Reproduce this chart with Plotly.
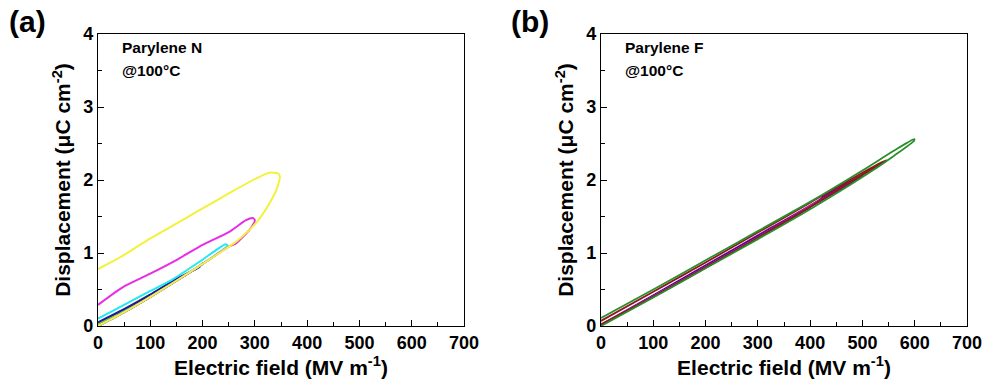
import plotly.graph_objects as go

# ---- Panel (a): Parylene N at 100 °C, D–E loops (field in MV/m, D in µC/cm²) ----
# Each loop is listed as the charging branch (0 -> Emax) followed by the discharging branch (Emax -> 0).
pn_orange_E = [0, 50, 100, 100, 50, 0]
pn_orange_D = [0.00, 0.20, 0.42, 0.43, 0.23, 0.02]

pn_green_E = [0, 50, 100, 150, 150, 100, 50, 0]
pn_green_D = [0.00, 0.19, 0.40, 0.63, 0.64, 0.43, 0.22, 0.03]

pn_blue_E = [0, 50, 100, 150, 200, 200, 194, 146, 100, 50, 0]
pn_blue_D = [0.00, 0.19, 0.40, 0.62, 0.85, 0.86, 0.81, 0.63, 0.43, 0.23, 0.05]

pn_cyan_E = [0, 50, 100, 150, 200, 240, 248, 244, 230, 194, 143, 100, 50, 0]
pn_cyan_D = [0.00, 0.19, 0.40, 0.62, 0.85, 1.05, 1.10, 1.12, 1.06, 0.88, 0.64, 0.48, 0.29, 0.10]

pn_magenta_E = [0, 50, 100, 150, 200, 251, 264, 277, 290, 300, 296, 283, 251, 200, 149, 98, 47, 0]
pn_magenta_D = [0.00, 0.19, 0.40, 0.62, 0.85, 1.09, 1.13, 1.22, 1.32, 1.45, 1.48, 1.45, 1.29, 1.11, 0.90, 0.71, 0.53, 0.29]

pn_yellow_E = [0, 50, 100, 150, 200, 251, 264, 290, 309, 328, 341, 348, 344, 328, 302, 251, 200, 149, 100, 47, 0]
pn_yellow_D = [0.00, 0.19, 0.40, 0.62, 0.85, 1.09, 1.155, 1.32, 1.47, 1.68, 1.86, 2.05, 2.09, 2.10, 2.02, 1.82, 1.61, 1.40, 1.20, 0.96, 0.78]

# ---- Panel (b): Parylene F at 100 °C ----
pf_yellow_E = [0, 100, 150, 150, 100, 0]
pf_yellow_D = [0.01, 0.41, 0.61, 0.62, 0.43, 0.03]

pf_dkyellow_E = [0, 100, 200, 250, 250, 200, 100, 0]
pf_dkyellow_D = [0.01, 0.40, 0.80, 1.01, 1.02, 0.82, 0.42, 0.03]

pf_olive_E = [0, 100, 200, 300, 300, 200, 100, 0]
pf_olive_D = [0.02, 0.41, 0.81, 1.22, 1.23, 0.83, 0.43, 0.04]

pf_blue_E = [0, 100, 200, 300, 350, 350, 300, 200, 100, 0]
pf_blue_D = [0.03, 0.42, 0.82, 1.23, 1.44, 1.45, 1.25, 0.84, 0.44, 0.05]

pf_navy_E = [0, 100, 200, 300, 400, 400, 300, 200, 100, 0]
pf_navy_D = [0.02, 0.41, 0.81, 1.22, 1.63, 1.64, 1.25, 0.84, 0.44, 0.05]

pf_white_E = [0, 100, 200, 300, 420, 420, 300, 200, 100, 0]
pf_white_D = [0.05, 0.45, 0.86, 1.27, 1.77, 1.78, 1.30, 0.88, 0.48, 0.08]

pf_magenta_E = [0, 100, 200, 300, 400, 450, 450, 400, 300, 200, 100, 0]
pf_magenta_D = [0.02, 0.41, 0.81, 1.22, 1.64, 1.85, 1.86, 1.67, 1.26, 0.85, 0.45, 0.05]

pf_purple_E = [0, 100, 200, 300, 400, 500, 500, 400, 300, 200, 100, 0]
pf_purple_D = [0.02, 0.40, 0.80, 1.21, 1.63, 2.06, 2.07, 1.67, 1.26, 0.85, 0.45, 0.06]

pf_wine_E = [0, 100, 200, 300, 400, 500, 545, 545, 500, 400, 300, 200, 100, 0]
pf_wine_D = [0.02, 0.40, 0.80, 1.21, 1.63, 2.07, 2.26, 2.27, 2.10, 1.69, 1.28, 0.87, 0.47, 0.07]

pf_green_E = [0, 100, 200, 300, 400, 500, 560, 599, 599, 560, 500, 400, 300, 200, 100, 0]
pf_green_D = [0.00, 0.39, 0.79, 1.19, 1.60, 2.04, 2.33, 2.54, 2.56, 2.40, 2.13, 1.70, 1.30, 0.90, 0.50, 0.11]

loops_a = [
    (pn_orange_E, pn_orange_D, "#f4a346"),
    (pn_green_E, pn_green_D, "#66dd22"),
    (pn_blue_E, pn_blue_D, "#1a1aa8"),
    (pn_cyan_E, pn_cyan_D, "#22e8f0"),
    (pn_magenta_E, pn_magenta_D, "#e62ee6"),
    (pn_yellow_E, pn_yellow_D, "#f2f23a"),
]
loops_b = [
    (pf_yellow_E, pf_yellow_D, "#e8e820"),
    (pf_dkyellow_E, pf_dkyellow_D, "#b8b800"),
    (pf_olive_E, pf_olive_D, "#808000"),
    (pf_blue_E, pf_blue_D, "#2020e0"),
    (pf_navy_E, pf_navy_D, "#000080"),
    (pf_magenta_E, pf_magenta_D, "#e020c0"),
    (pf_purple_E, pf_purple_D, "#800080"),
    (pf_white_E, pf_white_D, "#ffffff"),
    (pf_wine_E, pf_wine_D, "#8b1a1a"),
    (pf_green_E, pf_green_D, "#2a8f2a"),
]

x_ticks = [0, 100, 200, 300, 400, 500, 600, 700]
y_ticks = [0, 1, 2, 3, 4]

fig = go.Figure()
for e, d, c in loops_a:
    fig.add_trace(go.Scatter(x=e, y=d, mode="lines", xaxis="x", yaxis="y",
                             line=dict(color=c, width=2, shape="spline", smoothing=0.6),
                             showlegend=False, hoverinfo="skip"))
for e, d, c in loops_b:
    fig.add_trace(go.Scatter(x=e, y=d, mode="lines", xaxis="x2", yaxis="y2",
                             line=dict(color=c, width=1.8, shape="spline", smoothing=0.6),
                             showlegend=False, hoverinfo="skip"))

W, H = 989, 389
FONT = "Arial, Liberation Sans, sans-serif"


def xaxis(domain, anchor):
    return dict(domain=domain, anchor=anchor, range=[0, 700], tickvals=x_ticks,
                ticktext=[f"<b>{v}</b>" for v in x_ticks], automargin=False,
                showline=True, linecolor="black", linewidth=1.3, mirror=True,
                ticks="inside", ticklen=6, tickwidth=1.3, tickcolor="black",
                minor=dict(dtick=50, tick0=0, ticks="inside", ticklen=3.5, tickwidth=1.2, tickcolor="black"),
                showgrid=False, zeroline=False,
                tickfont=dict(family=FONT, size=18, color="black"),
                title=dict(text="<b>Electric field (MV m<sup>-1</sup>)</b>",
                           font=dict(family=FONT, size=21, color="black"), standoff=4))


def yaxis(domain, anchor):
    return dict(domain=domain, anchor=anchor, range=[0, 4], tickvals=y_ticks,
                ticktext=[f"<b>{v}</b>" for v in y_ticks], automargin=False,
                showline=True, linecolor="black", linewidth=1.3, mirror=True,
                ticks="inside", ticklen=6, tickwidth=1.3, tickcolor="black",
                minor=dict(dtick=0.5, tick0=0, ticks="inside", ticklen=3.5, tickwidth=1.2, tickcolor="black"),
                showgrid=False, zeroline=False,
                tickfont=dict(family=FONT, size=18, color="black"),
                title=dict(text="<b>Displacement (μC cm<sup>-2</sup>)</b>",
                           font=dict(family=FONT, size=21, color="black"), standoff=6))


ydom = [63 / H, 355 / H]
fig.update_layout(
    width=W, height=H,
    margin=dict(l=0, r=0, t=0, b=0, autoexpand=False),
    paper_bgcolor="white", plot_bgcolor="white",
    xaxis=xaxis([98 / W, 464 / W], "y"),
    yaxis=yaxis(ydom, "x"),
    xaxis2=xaxis([601 / W, 967 / W], "y2"),
    yaxis2=yaxis(ydom, "x2"),
)

annotations = [
    dict(text="<b>(a)</b>", x=7 / W, y=1 - 3 / H, size=30),
    dict(text="<b>(b)</b>", x=509 / W, y=1 - 3 / H, size=30),
    dict(text="<b>Parylene N</b>", x=120 / W, y=1 - 37 / H, size=15.5),
    dict(text="<b>@100°C</b>", x=120 / W, y=1 - 60 / H, size=15.5),
    dict(text="<b>Parylene F</b>", x=623 / W, y=1 - 37 / H, size=15.5),
    dict(text="<b>@100°C</b>", x=623 / W, y=1 - 60 / H, size=15.5),
]
for a in annotations:
    fig.add_annotation(text=a["text"], x=a["x"], y=a["y"], xref="paper", yref="paper",
                       xanchor="left", yanchor="top", showarrow=False,
                       font=dict(family=FONT, size=a["size"], color="black"))

fig.write_html("out.html")
